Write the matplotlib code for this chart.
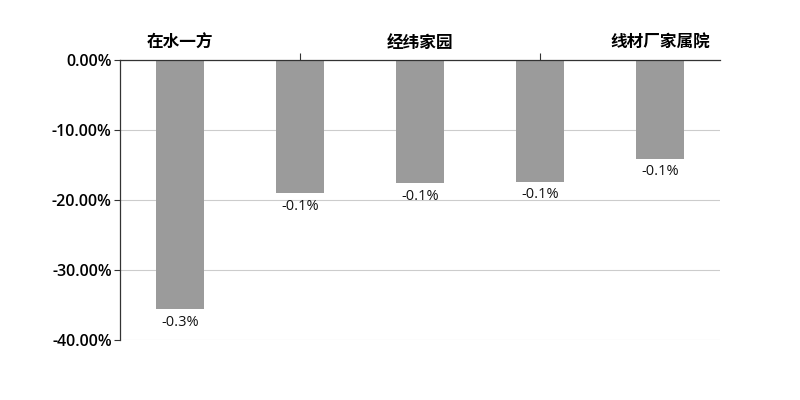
import matplotlib
matplotlib.use("Agg")
import matplotlib.pyplot as plt
from matplotlib.ticker import FuncFormatter

plt.rcParams['font.family'] = ['Open Sans', 'Noto Sans CJK SC', 'DejaVu Sans']

# data
categories = ['在水一方', '', '经纬家园', '', '线材厂家属院']
values = [-35.6, -19.05, -17.6, -17.4, -14.1]
value_labels = ['-0.3%', '-0.1%', '-0.1%', '-0.1%', '-0.1%']

fig = plt.figure(figsize=(8, 4), dpi=100)
ax = fig.add_axes([0.15, 0.15, 0.75, 0.70])

x = list(range(len(values)))
ax.bar(x, values, width=0.4, color='#9b9b9b', zorder=2)

for xi, v, lab in zip(x, values, value_labels):
    ax.annotate(lab, (xi, v), xytext=(0, -4), textcoords='offset points',
                ha='center', va='top', fontsize=10.5, fontweight='medium',
                color='#111111')

ax.set_xlim(-0.5, 4.5)
ax.set_ylim(-40, 0)
ax.set_yticks([0, -10, -20, -30, -40])
ax.yaxis.set_major_formatter(FuncFormatter(lambda v, p: f'{v:.2f}%'))
ax.grid(axis='y', color='#cccccc', linewidth=0.8, zorder=0)

# category axis on top
ax.xaxis.remove_overlapping_locs = False
ax.set_xticks(x)
ax.set_xticklabels(categories, fontsize=12, fontweight='bold')
ax.set_xticks([1, 3], minor=True)
ax.tick_params(axis='x', which='major', length=0, pad=6,
               top=True, labeltop=True, bottom=False, labelbottom=False)
ax.tick_params(axis='x', which='minor', length=5, width=0.8, color='#333333',
               top=True, bottom=False)
ax.tick_params(axis='y', length=4, width=0.8, color='#333333', labelsize=11.5, pad=2)
for t in ax.get_yticklabels():
    t.set_fontweight('semibold')

for s in ['right', 'bottom']:
    ax.spines[s].set_visible(False)
ax.spines['top'].set_color('#333333')
ax.spines['left'].set_color('#333333')
ax.spines['top'].set_linewidth(0.9)
ax.spines['left'].set_linewidth(0.9)

fig.savefig('out.png', dpi=100)
